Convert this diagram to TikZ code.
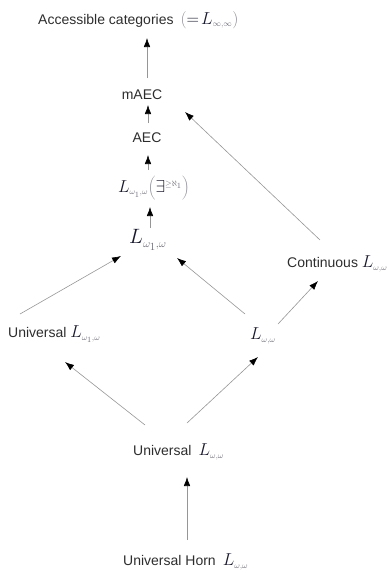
\documentclass[tikz,border=0pt]{standalone}
\usepackage{fontspec}
\setmainfont{Liberation Sans}
\usetikzlibrary{arrows.meta}
\definecolor{txtc}{RGB}{45,45,45}
\definecolor{mathc}{RGB}{25,25,45}
\definecolor{subc}{RGB}{110,110,120}
\definecolor{parc}{RGB}{140,140,150}
\definecolor{linec}{RGB}{150,150,150}
\newcommand{\myL}[2][17]{\mbox{\fontsize{#1}{#1}\selectfont$\color{mathc}L_{\scriptscriptstyle\color{subc}#2}$}}
\tikzset{
  lbl/.style={inner sep=0pt, text=txtc, font=\fontsize{14}{16}\selectfont},
  arr/.style={draw=linec, line width=0.6pt, -{Latex[length=9pt,width=6.5pt,color=black]}},
}
\begin{document}
\begin{tikzpicture}[x=1pt,y=-1pt]
\useasboundingbox (0,0) rectangle (387,573);
\node[lbl, anchor=west] (top) at (38,20) {Accessible categories\enspace\mbox{\fontsize{17}{17}\selectfont$\color{parc}\Bigl(\color{mathc}=\!L_{\scriptscriptstyle\color{subc}\infty,\infty}\color{parc}\Bigr)$}};
\node[lbl] (maec) at (142,95) {mAEC};
\node[lbl] (aec) at (147,138) {AEC};
\node[lbl, anchor=west] (lex) at (118,188) {\mbox{\fontsize{17}{17}\selectfont$\color{mathc}L_{\scriptscriptstyle\color{subc}\omega_1,\omega}\color{parc}\biggl(\color{mathc}\exists^{\scriptscriptstyle\color{subc}\geq\aleph_1}\color{parc}\biggr)$}};
\node[lbl, anchor=west] (big) at (129,240) {\myL[22]{\omega_1,\omega}};
\node[lbl, anchor=west] (ul1) at (8,334) {Universal \myL{\omega_1,\omega}};
\node[lbl, anchor=west] (lww) at (250,336) {\myL{\omega,\omega}};
\node[lbl, anchor=west] (cont) at (287,264) {Continuous \myL{\omega,\omega}};
\node[lbl, anchor=west] (ub) at (133,452) {Universal\enspace\myL{\omega,\omega}};
\node[lbl, anchor=west] (uh) at (123,562) {Universal Horn\enspace\myL{\omega,\omega}};

\draw[arr] ([xshift=64pt,yshift=22pt]uh.west) -- ([xshift=54pt,yshift=-25pt]ub.west);
\draw[arr] ([xshift=12pt,yshift=27pt]ub.west) -- ([xshift=57pt,yshift=-28pt]ul1.west);
\draw[arr] ([xshift=54pt,yshift=29pt]ub.west) -- ([xshift=8pt,yshift=-21pt]lww.west);
\draw[arr] ([xshift=12pt,yshift=20pt]ul1.west) -- ([xshift=-8pt,yshift=-16pt]big.west);
\draw[arr] ([xshift=-5pt,yshift=22pt]lww.west) -- ([xshift=48pt,yshift=-18pt]big.west);
\draw[arr] ([xshift=28pt,yshift=12pt]lww.west) -- ([xshift=31pt,yshift=-17pt]cont.west);
\draw[arr] ([xshift=33pt,yshift=24pt]cont.west) -- ([xshift=43pt,yshift=-17pt]maec.center);
\draw[arr] ([xshift=21pt,yshift=12pt]big.west) -- ([xshift=32pt,yshift=-19pt]lex.west);
\draw[arr] ([xshift=30pt,yshift=18pt]lex.west) -- ([xshift=1pt,yshift=-17pt]aec.center);
\draw[arr] ([xshift=1pt,yshift=15pt]aec.center) -- ([xshift=6pt,yshift=-10pt]maec.center);
\draw[arr] ([xshift=5pt,yshift=17pt]maec.center) -- ([xshift=109pt,yshift=-18pt]top.west);
\end{tikzpicture}
\end{document}
